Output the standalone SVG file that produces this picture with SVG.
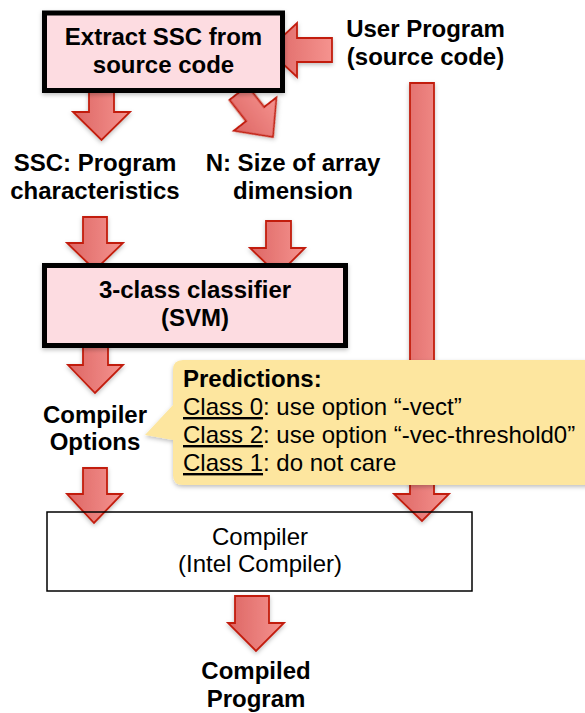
<svg xmlns="http://www.w3.org/2000/svg" width="585" height="713" viewBox="0 0 585 713">
<style>
text{font-family:"Liberation Sans",Arial,Helvetica,sans-serif;font-size:24px;fill:#000}
.b{font-weight:bold}
.c{text-anchor:middle}
.arrow{fill:url(#ag);stroke:#c21d0c;stroke-width:1.8;stroke-linejoin:miter;filter:url(#sh)}
.thick{fill:#fddce1;stroke:#000;stroke-width:5;filter:url(#sh)}
</style>
<defs>
<linearGradient id="ag" x1="0" y1="0" x2="1" y2="0">
<stop offset="0" stop-color="#dd6664"/>
<stop offset="1" stop-color="#f5938f"/>
</linearGradient>
<filter id="sh" x="-20%" y="-20%" width="140%" height="150%">
<feDropShadow dx="0" dy="2" stdDeviation="2" flood-color="#000" flood-opacity="0.25"/>
</filter>
<path id="dn" d="M-12.5,-55 H12.5 V-28 H28 L0,0 L-28,-28 H-12.5 Z"/>
</defs>

<g id="connectors">
<!-- long shaft from user program to compiler -->
<path class="arrow" d="M410,83 H434 V494 H449 L422,521 L394,494 H410 Z"/>
<!-- user program into extract -->
<path class="arrow" d="M332,38 V62 H297 V77 L268,50 L297,23 V38 Z"/>
<!-- extract -> SSC -->
<path class="arrow" d="M89,85 H114 V112 H130 L101.5,140 L73,112 H89 Z"/>
<!-- extract -> N -->
<path class="arrow" transform="translate(273,137) rotate(-38)" d="M-11.5,-56 H11.5 V-29 H27 L0,0 L-27,-29 H-11.5 Z"/>
<!-- SSC -> classifier -->
<path class="arrow" d="M83,217 H107 V243 H123 L95,270 L67,243 H83 Z"/>
<!-- N -> classifier -->
<path class="arrow" d="M266,221 H291 V248 H305 L278,275 L250,248 H266 Z"/>
<!-- classifier -> options -->
<path class="arrow" d="M83,340 H108 V365 H123 L95,393 L68,365 H83 Z"/>
<!-- options -> compiler -->
<path class="arrow" d="M83,468 H107 V494 H122 L94,523 L67,494 H83 Z"/>
<!-- compiler -> compiled program -->
<path class="arrow" d="M235,596 H269 V623 H284 L256,651 L228,623 H235 Z"/>
</g>

<g id="extract">
<rect class="thick" x="44.5" y="13" width="238" height="77.5"/>
<text class="b c" x="163.5" y="45">Extract SSC from</text>
<text class="b c" x="163.5" y="73">source code</text>
</g>

<g id="user-program">
<text class="b c" x="425.5" y="37">User Program</text>
<text class="b c" x="425.5" y="65">(source code)</text>
</g>

<g id="ssc">
<text class="b c" x="95" y="171">SSC: Program</text>
<text class="b c" x="95" y="199">characteristics</text>
</g>

<g id="n-size">
<text class="b c" x="293" y="171">N: Size of array</text>
<text class="b c" x="293" y="199">dimension</text>
</g>

<g id="classifier">
<rect class="thick" x="44.5" y="265.5" width="301" height="80"/>
<text class="b c" x="195" y="298">3-class classifier</text>
<text class="b c" x="195" y="326">(SVM)</text>
</g>

<g id="options">
<text class="b c" x="95" y="423">Compiler</text>
<text class="b c" x="95" y="450">Options</text>
</g>

<g id="predictions">
<path d="M183,360 H600 V485 H183 Q173,485 173,475 V440 L145,435 L173,405 V370 Q173,360 183,360 Z" fill="#fde69f" filter="url(#sh)"/>
<text class="b" x="183" y="387">Predictions:</text>
<text x="183" y="415"><tspan text-decoration="underline">Class 0</tspan>: use option “-vect”</text>
<text x="183" y="443"><tspan text-decoration="underline">Class 2</tspan>: use option “-vec-threshold0”</text>
<text x="183" y="471"><tspan text-decoration="underline">Class 1</tspan>: do not care</text>
</g>

<g id="compiler">
<rect x="47" y="512" width="425" height="79" fill="none" stroke="#000" stroke-width="1.5"/>
<text class="c" x="260" y="545">Compiler</text>
<text class="c" x="260" y="572">(Intel Compiler)</text>
</g>

<g id="compiled">
<text class="b c" x="256" y="679">Compiled</text>
<text class="b c" x="256" y="707">Program</text>
</g>
</svg>
